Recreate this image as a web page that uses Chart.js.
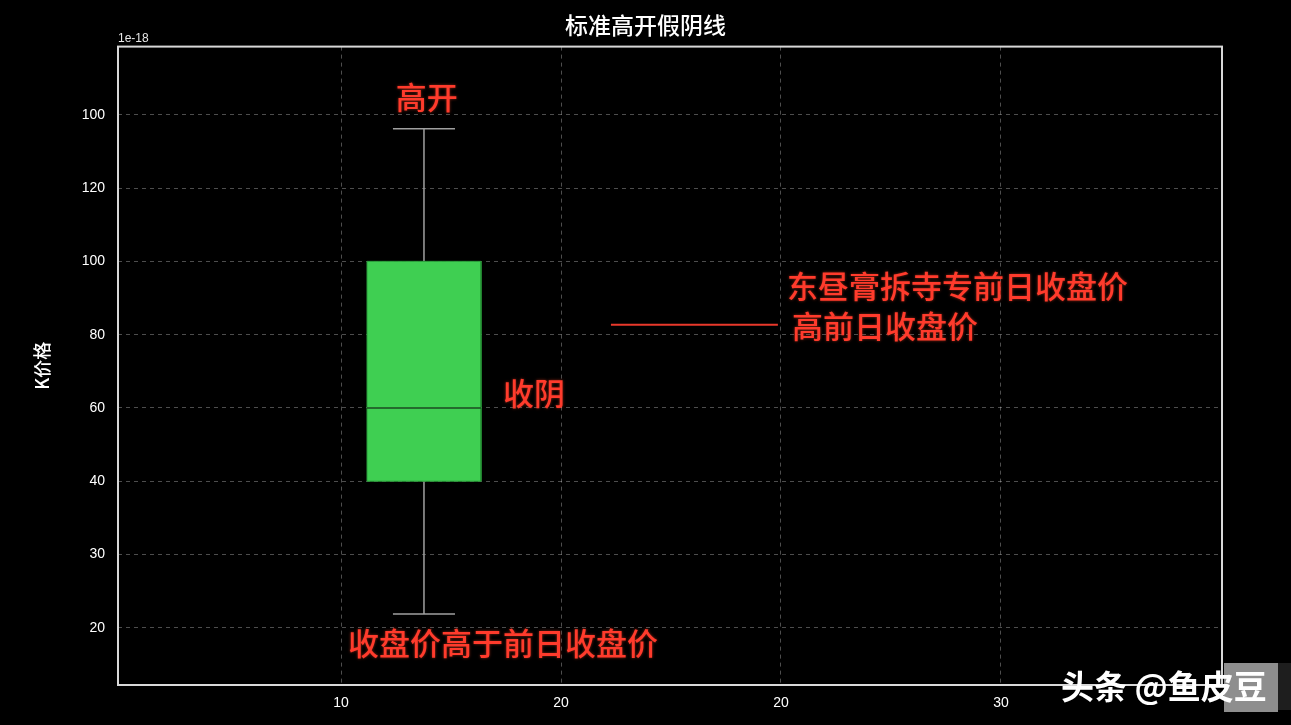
<!DOCTYPE html>
<html>
<head>
<meta charset="utf-8">
<script src="https://cdn.jsdelivr.net/npm/chart.js@4.4.1/dist/chart.umd.min.js"></script>
<style>
  html, body { margin: 0; padding: 0; background: #000; }
  #wrap { width: 1291px; height: 725px; position: relative; }
</style>
</head>
<body>
<div id="wrap"><canvas id="chart"></canvas></div>
<script>
// tick positions and the (odd) labels printed on them
const xTickValues = [10, 20, 30, 40];
const xTickLabels = ["10", "20", "20", "30"];
const yTickValues = [0, 20, 40, 60, 80, 100, 120, 140];
const yTickLabels = ["20", "30", "40", "60", "80", "100", "120", "100"];

// the single candle (box + whiskers)
const candleX = 13.77;
const boxValues = [40, 100];        // body low / high
const medianValue = [60];
const whiskerValues = [3.8, 136.2]; // low / high

// the reference line on the right
const refLineX = [22.27, 29.86];
const refLineY = [82.7];

// red notes
const noteTexts = ["高开", "收阴", "收盘价高于前日收盘价", "东昼膏拆寺专前日收盘价", "高前日收盘价"];
const noteX = [13.9, 17.36, 17.36, 30.27, 30.5];
const noteY = [144.9, 63.9, -4.3, 93.1, 82.4];
const noteAlign = ["center", "left", "center", "left", "left"];

const boxHalf = 2.59;
const capHalf = 1.41;

const seg = (x1, y1, x2, y2) => [{ x: x1, y: y1 }, { x: x2, y: y2 }];
const lineDs = (data, color, width, order, extra) => Object.assign({
    data: data,
    borderColor: color,
    borderWidth: width,
    pointRadius: 0,
    fill: false,
    order: order
}, extra || {});

const datasets = [
    // whisker and caps
    lineDs(seg(candleX, whiskerValues[0], candleX, whiskerValues[1]), "#a0a0a0", 1.5, 5),
    lineDs(seg(candleX - capHalf, whiskerValues[0], candleX + capHalf, whiskerValues[0]), "#a0a0a0", 1.5, 5),
    lineDs(seg(candleX - capHalf, whiskerValues[1], candleX + capHalf, whiskerValues[1]), "#a0a0a0", 1.5, 5),
    // body fill
    lineDs(seg(candleX - boxHalf, boxValues[1], candleX + boxHalf, boxValues[1]), "rgba(0,0,0,0)", 0, 3,
        { fill: { target: { value: boxValues[0] } }, backgroundColor: "#3fcf52" }),
    // body outline
    lineDs([
        { x: candleX - boxHalf, y: boxValues[0] },
        { x: candleX - boxHalf, y: boxValues[1] },
        { x: candleX + boxHalf, y: boxValues[1] },
        { x: candleX + boxHalf, y: boxValues[0] },
        { x: candleX - boxHalf, y: boxValues[0] }
    ], "#2a9c3a", 1, 2),
    // median
    lineDs(seg(candleX - boxHalf, medianValue[0], candleX + boxHalf, medianValue[0]), "#1d4a22", 1.5, 1),
    // red reference line
    lineDs(seg(refLineX[0], refLineY[0], refLineX[1], refLineY[0]), "#e8382b", 2, 1)
];

// frame, small exponent label, red notes and watermark
const extrasPlugin = {
    id: "extras",
    afterDatasetsDraw(chart) {
        const ctx = chart.ctx;
        const a = chart.chartArea;
        const xs = chart.scales.x, ys = chart.scales.y;
        ctx.save();
        ctx.strokeStyle = "#d8d8d8";
        ctx.lineWidth = 2;
        ctx.strokeRect(a.left, a.top, a.right - a.left, a.bottom - a.top);

        ctx.fillStyle = "#e8e8e8";
        ctx.font = "12px 'Liberation Sans', Arial, sans-serif";
        ctx.textAlign = "left";
        ctx.textBaseline = "bottom";
        ctx.fillText("1e-18", a.left, a.top - 2);

        ctx.font = "500 31px 'Noto Sans CJK SC', sans-serif";
        ctx.textBaseline = "middle";
        ctx.fillStyle = "#ff3b2c";
        ctx.shadowColor = "rgba(255,70,40,0.55)";
        ctx.shadowBlur = 3;
        noteTexts.forEach((t, i) => {
            ctx.textAlign = noteAlign[i];
            ctx.fillText(t, xs.getPixelForValue(noteX[i]), ys.getPixelForValue(noteY[i]));
        });
        ctx.shadowBlur = 0;

        // watermark
        ctx.fillStyle = "#8e8e8e";
        ctx.fillRect(1224, 663, 54, 49);
        ctx.fillStyle = "#1e1e1e";
        ctx.fillRect(1278, 663, 13, 47);
        ctx.fillStyle = "#ffffff";
        ctx.font = "bold 33px 'Noto Sans CJK SC', sans-serif";
        ctx.textAlign = "left";
        ctx.textBaseline = "alphabetic";
        ctx.fillText("头条 @鱼皮豆", 1061, 699);
        ctx.restore();
    }
};

const tickFont = { family: "'Liberation Sans', Arial, sans-serif", size: 14 };

new Chart(document.getElementById("chart"), {
    type: "line",
    data: { datasets: datasets },
    options: {
        responsive: true,
        maintainAspectRatio: false,
        animation: false,
        layout: { padding: 0 },
        plugins: {
            legend: { display: false },
            tooltip: { enabled: false },
            title: {
                display: true,
                text: "标准高开假阴线",
                color: "#ffffff",
                font: { family: "'Noto Sans CJK SC', sans-serif", size: 23, weight: "500" },
                padding: { top: 11, bottom: 8 }
            }
        },
        scales: {
            x: {
                type: "linear",
                min: -0.14,
                max: 50.05,
                afterBuildTicks: s => { s.ticks = xTickValues.map(v => ({ value: v })); },
                afterFit: s => { s.height = 40; },
                ticks: {
                    color: "#ffffff",
                    font: tickFont,
                    padding: 10,
                    maxRotation: 0,
                    callback: v => xTickLabels[xTickValues.indexOf(v)]
                },
                grid: { color: "rgba(255,255,255,0.3)", lineWidth: 1, drawTicks: false },
                border: { display: false, dash: [4, 4] }
            },
            y: {
                type: "linear",
                min: -15.6,
                max: 158.6,
                afterBuildTicks: s => { s.ticks = yTickValues.map(v => ({ value: v })); },
                afterFit: s => { s.width = 118; },
                ticks: {
                    color: "#ffffff",
                    font: tickFont,
                    padding: 13,
                    callback: v => yTickLabels[yTickValues.indexOf(v)]
                },
                grid: { color: "rgba(255,255,255,0.3)", lineWidth: 1, drawTicks: false },
                border: { display: false, dash: [4, 4] },
                title: {
                    display: true,
                    text: "K价格",
                    color: "#ffffff",
                    font: { family: "'Noto Sans CJK SC', sans-serif", size: 18, weight: "500" },
                    padding: { top: 31, bottom: 0 }
                }
            },
            yRight: {
                type: "linear",
                position: "right",
                display: true,
                afterFit: s => { s.width = 69; },
                ticks: { display: false },
                grid: { display: false, drawTicks: false },
                border: { display: false }
            }
        }
    },
    plugins: [extrasPlugin]
});
</script>
</body>
</html>
